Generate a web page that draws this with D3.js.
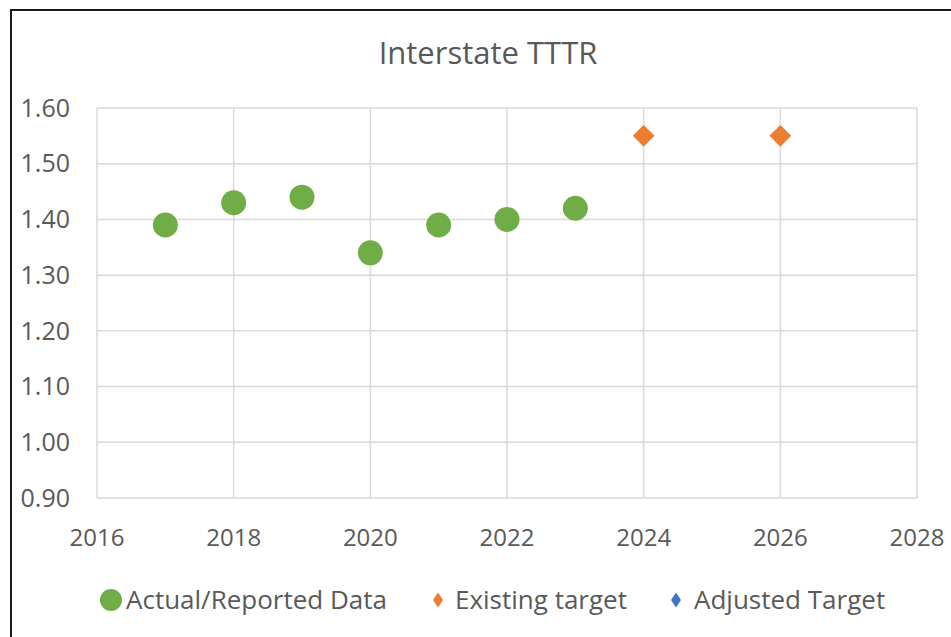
<!DOCTYPE html>
<meta charset="utf-8">
<script src="https://d3js.org/d3.v7.min.js"></script>
<style>
  body { margin: 0; background: #fff; }
  text { font-family: "Open Sans", sans-serif; fill: #595959; }
</style>
<div id="chart"></div>
<script>

// data
var actualYears = [2017, 2018, 2019, 2020, 2021, 2022, 2023];
var actualValues = [1.39, 1.43, 1.44, 1.34, 1.39, 1.40, 1.42];
var targetYears = [2024, 2026];
var targetValues = [1.55, 1.55];
var adjustedYears = [];
var adjustedValues = [];
var xTicks = [2016, 2018, 2020, 2022, 2024, 2026, 2028];
var yTicks = [0.90, 1.00, 1.10, 1.20, 1.30, 1.40, 1.50, 1.60];

var W = 951, H = 637;
var margin = {top: 108, right: 34, bottom: 139, left: 97};
var width = W - margin.left - margin.right,
    height = H - margin.top - margin.bottom;

var svg = d3.select("#chart").append("svg")
  .attr("width", W)
  .attr("height", H);

// outer frame (cropped at right/bottom)
svg.append("rect")
  .attr("x", 11).attr("y", 10)
  .attr("width", W).attr("height", H)
  .attr("fill", "none")
  .attr("stroke", "#1a1a1a")
  .attr("stroke-width", 2);

var g = svg.append("g")
  .attr("transform", "translate(" + margin.left + "," + margin.top + ")");

var x = d3.scaleLinear().domain([2016, 2028]).range([0, width]);
var y = d3.scaleLinear().domain([0.9, 1.6]).range([height, 0]);

// gridlines
g.selectAll(".hgrid").data(yTicks).enter().append("line")
  .attr("x1", 0).attr("x2", width)
  .attr("y1", function(d) { return y(d); })
  .attr("y2", function(d) { return y(d); })
  .attr("stroke", "#d9d9d9").attr("stroke-width", 1.5);

g.selectAll(".vgrid").data(xTicks).enter().append("line")
  .attr("y1", 0).attr("y2", height)
  .attr("x1", function(d) { return x(d); })
  .attr("x2", function(d) { return x(d); })
  .attr("stroke", "#d9d9d9").attr("stroke-width", 1.5);

// y labels
g.selectAll(".ylab").data(yTicks).enter().append("text")
  .attr("x", -27)
  .attr("y", function(d) { return y(d); })
  .attr("dy", "0.35em")
  .attr("text-anchor", "end")
  .style("font-size", "25px")
  .text(function(d) { return d3.format(".2f")(d); });

// x labels
g.selectAll(".xlab").data(xTicks).enter().append("text")
  .attr("x", function(d) { return x(d); })
  .attr("y", height + 48)
  .attr("text-anchor", "middle")
  .style("font-size", "24px")
  .text(function(d) { return d; });

// title
svg.append("text")
  .attr("x", 488).attr("y", 64)
  .attr("text-anchor", "middle")
  .style("font-size", "31px")
  .text("Interstate TTTR");

// actual points
g.selectAll(".actual").data(actualYears).enter().append("circle")
  .attr("cx", function(d) { return x(d); })
  .attr("cy", function(d, i) { return y(actualValues[i]); })
  .attr("r", 12.5)
  .attr("fill", "#70ad47");

var diamond = d3.symbol().type(d3.symbolDiamond2).size(300);

g.selectAll(".target").data(targetYears).enter().append("path")
  .attr("d", diamond)
  .attr("transform", function(d, i) {
    return "translate(" + x(d) + "," + y(targetValues[i]) + ")";
  })
  .attr("fill", "#ed7d31");

g.selectAll(".adjusted").data(adjustedYears).enter().append("path")
  .attr("d", diamond)
  .attr("transform", function(d, i) {
    return "translate(" + x(d) + "," + y(adjustedValues[i]) + ")";
  })
  .attr("fill", "#4472c4");

// legend
var legend = [
  {label: "Actual/Reported Data", color: "#70ad47", shape: "circle", x: 111, tx: 126},
  {label: "Existing target", color: "#ed7d31", shape: "diamond", x: 438, tx: 455},
  {label: "Adjusted Target", color: "#4472c4", shape: "diamond", x: 676, tx: 694}
];
var ly = 600;
legend.forEach(function(l) {
  if (l.shape === "circle") {
    svg.append("circle").attr("cx", l.x).attr("cy", ly).attr("r", 11).attr("fill", l.color);
  } else {
    svg.append("path")
      .attr("d", d3.symbol().type(d3.symbolDiamond2).size(100))
      .attr("transform", "translate(" + l.x + "," + ly + ") scale(0.8,1.2)")
      .attr("fill", l.color);
  }
  svg.append("text")
    .attr("x", l.tx).attr("y", ly)
    .attr("dy", "0.35em")
    .style("font-size", "26px")
    .text(l.label);
});

</script>
